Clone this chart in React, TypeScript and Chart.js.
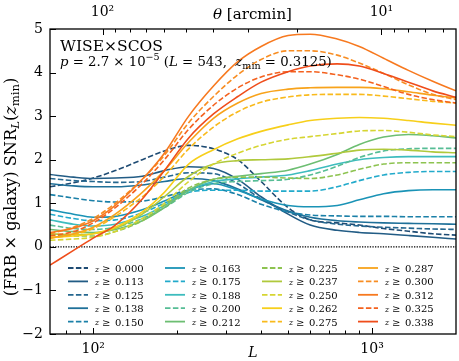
import React, { useEffect, useRef } from 'react';
import { Chart, registerables } from 'chart.js';

Chart.register(...registerables);

// Multipole grid (x axis, L)
const L_VALUES = [70, 85, 100, 120, 150, 180, 220, 270, 330, 400, 500, 600, 750, 900, 1100, 1350, 1650, 2000];

// SNR_L(z_min) curves, one per minimum redshift
const snr_000 = [1.38, 1.47, 1.58, 1.75, 2.0, 2.2, 2.33, 2.25, 2.0, 1.5, 0.9, 0.62, 0.55, 0.5, 0.42, 0.36, 0.3, 0.27];
const snr_113 = [1.66, 1.6, 1.57, 1.58, 1.62, 1.75, 1.84, 1.8, 1.55, 1.15, 0.75, 0.5, 0.38, 0.33, 0.3, 0.26, 0.22, 0.18];
const snr_125 = [1.57, 1.52, 1.5, 1.48, 1.5, 1.6, 1.7, 1.68, 1.45, 1.1, 0.8, 0.62, 0.52, 0.48, 0.45, 0.43, 0.41, 0.4];
const snr_138 = [1.45, 1.4, 1.38, 1.38, 1.42, 1.5, 1.57, 1.52, 1.33, 1.08, 0.82, 0.68, 0.6, 0.57, 0.55, 0.54, 0.53, 0.52];
const snr_150 = [1.2, 1.12, 1.06, 1.03, 1.05, 1.15, 1.3, 1.33, 1.2, 0.98, 0.8, 0.73, 0.71, 0.7, 0.7, 0.69, 0.69, 0.69];
const snr_163 = [0.85, 0.75, 0.68, 0.7, 0.85, 1.05, 1.3, 1.45, 1.3, 1.1, 0.95, 0.92, 0.95, 1.08, 1.22, 1.29, 1.31, 1.31];
const snr_175 = [0.75, 0.65, 0.6, 0.62, 0.78, 1.0, 1.25, 1.3, 1.3, 1.28, 1.28, 1.28, 1.38, 1.52, 1.65, 1.71, 1.73, 1.73];
const snr_188 = [0.62, 0.52, 0.48, 0.52, 0.7, 0.95, 1.3, 1.5, 1.56, 1.6, 1.65, 1.75, 1.9, 2.0, 2.05, 2.07, 2.07, 2.07];
const snr_200 = [0.5, 0.42, 0.4, 0.45, 0.65, 0.9, 1.25, 1.45, 1.5, 1.52, 1.55, 1.65, 1.85, 2.05, 2.2, 2.25, 2.26, 2.26];
const snr_212 = [0.4, 0.35, 0.33, 0.4, 0.6, 0.9, 1.3, 1.55, 1.62, 1.68, 1.76, 1.9, 2.12, 2.35, 2.52, 2.58, 2.55, 2.5];
const snr_225 = [0.28, 0.25, 0.25, 0.35, 0.6, 0.95, 1.35, 1.55, 1.6, 1.6, 1.58, 1.57, 1.65, 1.78, 1.9, 1.93, 1.93, 1.93];
const snr_237 = [0.3, 0.28, 0.3, 0.42, 0.75, 1.15, 1.62, 1.9, 1.98, 2.0, 2.02, 2.07, 2.15, 2.22, 2.24, 2.22, 2.18, 2.16];
const snr_250 = [0.15, 0.18, 0.22, 0.35, 0.65, 1.0, 1.5, 1.9, 2.15, 2.33, 2.47, 2.53, 2.6, 2.66, 2.67, 2.63, 2.57, 2.53];
const snr_262 = [0.22, 0.25, 0.3, 0.45, 0.8, 1.25, 1.9, 2.23, 2.48, 2.65, 2.8, 2.9, 2.95, 2.97, 2.95, 2.9, 2.84, 2.79];
const snr_275 = [0.2, 0.28, 0.42, 0.7, 1.15, 1.62, 2.25, 2.75, 3.1, 3.32, 3.44, 3.49, 3.5, 3.5, 3.46, 3.4, 3.34, 3.3];
const snr_287 = [0.2, 0.3, 0.45, 0.75, 1.25, 1.75, 2.4, 2.95, 3.3, 3.52, 3.62, 3.65, 3.66, 3.66, 3.63, 3.56, 3.48, 3.42];
const snr_300 = [0.3, 0.45, 0.65, 1.0, 1.55, 2.1, 2.85, 3.45, 3.95, 4.3, 4.5, 4.5, 4.4, 4.22, 3.98, 3.72, 3.5, 3.38];
const snr_312 = [0.33, 0.43, 0.6, 0.95, 1.55, 2.15, 3.0, 3.69, 4.25, 4.6, 4.85, 4.88, 4.77, 4.6, 4.33, 4.05, 3.8, 3.58];
const snr_325 = [0.25, 0.35, 0.55, 0.9, 1.45, 2.0, 2.7, 3.25, 3.65, 3.9, 4.02, 4.02, 3.95, 3.85, 3.68, 3.5, 3.38, 3.3];
const snr_338 = [-0.42, -0.08, 0.2, 0.5, 1.1, 1.75, 2.5, 3.05, 3.45, 3.78, 4.02, 4.15, 4.2, 4.15, 3.98, 3.78, 3.58, 3.43];

const Z_MIN_LABELS = ['0.000', '0.113', '0.125', '0.138', '0.150', '0.163', '0.175', '0.188', '0.200', '0.212',
  '0.225', '0.237', '0.250', '0.262', '0.275', '0.287', '0.300', '0.312', '0.325', '0.338'];
const SERIES = [snr_000, snr_113, snr_125, snr_138, snr_150, snr_163, snr_175, snr_188, snr_200, snr_212,
  snr_225, snr_237, snr_250, snr_262, snr_275, snr_287, snr_300, snr_312, snr_325, snr_338];

const ZERO_LINE = [0, 0];
const X_RANGE = [70, 2000];
const Y_TICKS = [-2, -1, 0, 1, 2, 3, 4, 5];
const X_MAJOR = [100, 1000];
const X_MINOR = [80, 90, 200, 300, 400, 500, 600, 700, 800, 900];
const THETA_MAJOR = [10, 100];
const THETA_MINOR = [6, 7, 8, 9, 20, 30, 40, 50, 60, 70, 80, 90];
const X_TICK_LABELS: Record<number, string> = { 100: '10²', 1000: '10³' };
const THETA_TICK_LABELS: Record<number, string> = { 10: '10¹', 100: '10²' };

const COLORS = ['#1e4b73', '#225c85', '#25678f', '#1f7099', '#1b80a8', '#1a93b6', '#22aacb', '#3dbcbe', '#56bd95', '#6dbe72',
  '#8dc350', '#b0c93c', '#d6d532', '#f7cf1a', '#f9ba1c', '#f8a31b', '#f88d22', '#f7791f', '#f4611e', '#ef4d1b'];

const SERIF = '"DejaVu Serif", "Liberation Serif", serif';
const ARCMIN_PER_RAD_PI = 10800;

type Seg = { t: string; it?: boolean; sc?: number; dy?: number };

function segFont(s: Seg, size: number) {
  return `${s.it ? 'italic ' : ''}${(size * (s.sc ?? 1)).toFixed(2)}px ${SERIF}`;
}

function drawRich(ctx: CanvasRenderingContext2D, segs: Seg[], x: number, y: number, size0: number,
  align: 'left' | 'center', fit?: number) {
  let size = size0;
  const measure = () => segs.map((s) => {
    ctx.font = segFont(s, size);
    return ctx.measureText(s.t).width;
  });
  let widths = measure();
  let total = widths.reduce((a, b) => a + b, 0);
  if (fit) {
    size = size * fit / total;
    widths = measure();
    total = widths.reduce((a, b) => a + b, 0);
  }
  let cx = align === 'center' ? x - total / 2 : x;
  ctx.textBaseline = 'alphabetic';
  ctx.textAlign = 'left';
  segs.forEach((s, i) => {
    ctx.font = segFont(s, size);
    ctx.fillText(s.t, cx, y + (s.dy ?? 0) * size / size0);
    cx += widths[i];
  });
}

const decorPlugin = {
  id: 'decor',
  afterDraw(chart: any) {
    const ctx: CanvasRenderingContext2D = chart.ctx;
    const { left, right, top, bottom } = chart.chartArea;
    const xs = chart.scales.x;
    const xt = chart.scales.xTop;
    const ys = chart.scales.y;
    ctx.save();
    ctx.strokeStyle = '#000';
    ctx.fillStyle = '#000';
    ctx.lineWidth = 1;
    ctx.setLineDash([]);
    // ticks (pointing inward)
    ctx.beginPath();
    X_MAJOR.forEach((v) => { const p = Math.round(xs.getPixelForValue(v)) + 0.5; ctx.moveTo(p, bottom); ctx.lineTo(p, bottom - 6); });
    X_MINOR.forEach((v) => { const p = Math.round(xs.getPixelForValue(v)) + 0.5; ctx.moveTo(p, bottom); ctx.lineTo(p, bottom - 3.5); });
    THETA_MAJOR.forEach((v) => { const p = Math.round(xt.getPixelForValue(v)) + 0.5; ctx.moveTo(p, top); ctx.lineTo(p, top + 6); });
    THETA_MINOR.forEach((v) => { const p = Math.round(xt.getPixelForValue(v)) + 0.5; ctx.moveTo(p, top); ctx.lineTo(p, top + 3.5); });
    Y_TICKS.forEach((v) => { const p = Math.round(ys.getPixelForValue(v)) + 0.5; ctx.moveTo(left, p); ctx.lineTo(left + 6, p); });
    ctx.stroke();
    // frame
    ctx.lineWidth = 1.3;
    ctx.strokeRect(left, top, right - left, bottom - top);

    // axis titles
    ctx.fillStyle = '#000';
    drawRich(ctx, [{ t: 'L', it: true }], (left + right) / 2, 357, 14, 'center');
    drawRich(ctx, [{ t: 'θ', it: true }, { t: ' [arcmin]' }], 252.5, 19, 13, 'center', 79);
    ctx.save();
    ctx.translate(16, 187);
    ctx.rotate(-Math.PI / 2);
    drawRich(ctx, [
      { t: '(FRB × galaxy) SNR' },
      { t: 'L', it: true, sc: 0.72, dy: 3 },
      { t: '(' },
      { t: 'z', it: true },
      { t: 'min', sc: 0.72, dy: 3 },
      { t: ')' },
    ], 0, 0, 14, 'center', 219);
    ctx.restore();

    // annotations
    drawRich(ctx, [{ t: 'WISE×SCOS' }], 60, 51, 14, 'left', 103);
    drawRich(ctx, [
      { t: 'p', it: true }, { t: ' = 2.7 × 10' }, { t: '−5', sc: 0.72, dy: -4.5 },
      { t: ' (' }, { t: 'L', it: true }, { t: ' = 543,  ' }, { t: 'z', it: true },
      { t: 'min', sc: 0.72, dy: 2.5 }, { t: ' = 0.3125)' },
    ], 60, 66, 10.5, 'left', 272);

    // legend (4 columns x 5 rows, column-major)
    const colX = [68, 165, 262, 358];
    const rowY0 = 268;
    const rowDy = 13.4;
    Z_MIN_LABELS.forEach((lab, i) => {
      const c = Math.floor(i / 5);
      const r = i % 5;
      const x0 = colX[c];
      const yy = rowY0 + r * rowDy;
      ctx.strokeStyle = COLORS[i];
      ctx.lineWidth = 1.8;
      ctx.setLineDash(i % 2 === 0 ? [5.5, 2.4] : []);
      ctx.beginPath();
      ctx.moveTo(x0, yy);
      ctx.lineTo(x0 + 20, yy);
      ctx.stroke();
      ctx.setLineDash([]);
      ctx.fillStyle = '#000';
      drawRich(ctx, [{ t: 'z', it: true }], x0 + 27, yy + 3.5, 8, 'left');
      drawRich(ctx, [{ t: '≥' }], x0 + 34, yy + 4, 10, 'left');
      drawRich(ctx, [{ t: lab }], x0 + 47, yy + 4, 10, 'left');
    });
    ctx.restore();
  },
};

export default function App() {
  const ref = useRef<HTMLCanvasElement | null>(null);
  useEffect(() => {
    if (!ref.current) return;
    const datasets: any[] = SERIES.map((vals, i) => ({
      label: 'z ≥ ' + Z_MIN_LABELS[i],
      data: L_VALUES.map((L, j) => ({ x: L, y: vals[j] })),
      borderColor: COLORS[i],
      borderWidth: 1.6,
      borderDash: i % 2 === 0 ? [5.5, 2.4] : [],
      borderCapStyle: 'butt',
      pointRadius: 0,
      fill: false,
      cubicInterpolationMode: 'monotone',
      order: 20 - i,
    }));
    datasets.push({
      label: 'zero',
      data: X_RANGE.map((L, j) => ({ x: L, y: ZERO_LINE[j] })),
      borderColor: '#000',
      borderWidth: 1.3,
      borderDash: [1.3, 1.3],
      pointRadius: 0,
      order: 100,
    });
    const tickFont = { family: SERIF, size: 14 };
    const chart = new Chart(ref.current, {
      type: 'line',
      data: { datasets },
      options: {
        animation: false,
        responsive: false,
        events: [],
        layout: { padding: { left: 0, right: 3, top: 0, bottom: 0 } },
        plugins: { legend: { display: false }, tooltip: { enabled: false } },
        scales: {
          x: {
            type: 'logarithmic',
            position: 'bottom',
            min: X_RANGE[0],
            max: X_RANGE[1],
            grid: { display: false, drawTicks: false },
            border: { display: false },
            afterBuildTicks: (s: any) => { s.ticks = X_MAJOR.map((v) => ({ value: v })); },
            ticks: {
              autoSkip: false,
              maxRotation: 0,
              padding: 7,
              color: '#000',
              font: tickFont,
              callback: (v: any) => X_TICK_LABELS[Number(v)] ?? '',
            },
            afterFit: (s: any) => { s.height = 27; },
          },
          xTop: {
            type: 'logarithmic',
            position: 'top',
            reverse: true,
            min: ARCMIN_PER_RAD_PI / X_RANGE[1],
            max: ARCMIN_PER_RAD_PI / X_RANGE[0],
            grid: { display: false, drawTicks: false },
            border: { display: false },
            afterBuildTicks: (s: any) => { s.ticks = THETA_MAJOR.map((v) => ({ value: v })); },
            ticks: {
              autoSkip: false,
              maxRotation: 0,
              padding: 8,
              color: '#000',
              font: tickFont,
              callback: (v: any) => THETA_TICK_LABELS[Number(v)] ?? '',
            },
            afterFit: (s: any) => { s.height = 29; },
          },
          y: {
            type: 'linear',
            min: -2,
            max: 5,
            grid: { display: false, drawTicks: false },
            border: { display: false },
            afterBuildTicks: (s: any) => { s.ticks = Y_TICKS.map((v) => ({ value: v })); },
            ticks: {
              padding: 7,
              color: '#000',
              font: tickFont,
              callback: (v: any) => (Number(v) < 0 ? '−' + Math.abs(Number(v)) : String(v)),
            },
            afterFit: (s: any) => { s.width = 50; },
          },
        },
      },
      plugins: [decorPlugin],
    } as any);
    return () => chart.destroy();
  }, []);
  return (
    <div style={{ position: 'absolute', left: 0, top: 0, width: 459, height: 361, background: '#fff' }}>
      <canvas ref={ref} width={459} height={361} />
    </div>
  );
}
